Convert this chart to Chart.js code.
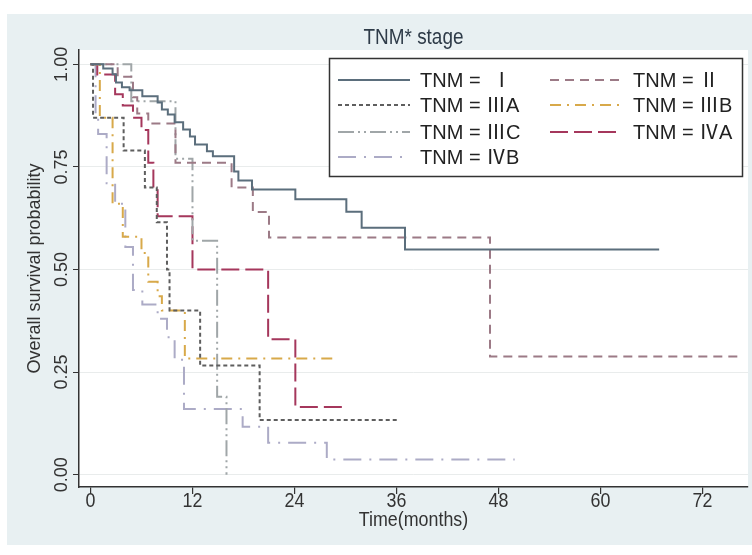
<!DOCTYPE html>
<html lang="en">
<head>
<meta charset="UTF-8">
<title>TNM stage survival</title>
<script src="https://cdn.jsdelivr.net/npm/chart.js"></script>
<style>
  html, body { margin: 0; padding: 0; background: #ffffff; }
  #wrap { width: 752px; height: 555px; }
</style>
</head>
<body>
<div id="wrap"><canvas id="km" width="752" height="555"></canvas></div>
<script>
// Kaplan-Meier steps: time (months) and survival after each drop,
// last entry of each series = end of follow-up
const timeI    = [0, 1.5, 2.6, 3.0, 3.7, 4.6, 6.1, 7.9, 8.4, 9.1, 9.9, 10.9, 11.7, 12.3, 13.7, 14.4, 16.9, 17.4, 19.0, 24.1, 30.1, 31.9, 37.0, 66.9];
const survI    = [1.0, 0.99, 0.976, 0.956, 0.944, 0.937, 0.922, 0.907, 0.89, 0.878, 0.859, 0.841, 0.824, 0.805, 0.788, 0.776, 0.739, 0.717, 0.695, 0.671, 0.641, 0.602, 0.549, 0.549];
const timeII   = [0, 3.2, 5.0, 5.5, 6.8, 10.0, 16.6, 19.1, 21.0, 47.0, 76.1];
const survII   = [1.0, 0.97, 0.92, 0.88, 0.856, 0.76, 0.70, 0.64, 0.578, 0.288, 0.288];
const timeIIIA = [0, 0.3, 3.9, 6.4, 7.8, 9.0, 9.3, 12.9, 19.9, 36.2];
const survIIIA = [1.0, 0.87, 0.79, 0.70, 0.615, 0.50, 0.40, 0.266, 0.133, 0.133];
const timeIIIB = [0, 1.1, 2.6, 3.8, 6.0, 6.8, 7.9, 8.4, 11.1, 29.0];
const survIIIB = [1.0, 0.87, 0.66, 0.58, 0.54, 0.47, 0.435, 0.40, 0.283, 0.283];
const timeIIIC = [0, 4.8, 10.0, 12.0, 14.9, 16.0];
const survIIIC = [1.0, 0.91, 0.77, 0.57, 0.19, 0.0];
const timeIVA  = [0, 0.8, 2.9, 3.8, 5.0, 6.0, 6.8, 7.4, 7.9, 12.0, 20.9, 24.1, 29.7];
const survIVA  = [1.0, 0.975, 0.927, 0.90, 0.87, 0.84, 0.76, 0.70, 0.63, 0.50, 0.33, 0.165, 0.165];
const timeIVB  = [0, 0.6, 0.9, 1.9, 2.9, 4.1, 5.0, 6.1, 7.9, 9.0, 9.9, 11.0, 17.9, 20.9, 27.8, 49.9];
const survIVB  = [1.0, 0.88, 0.83, 0.71, 0.66, 0.555, 0.45, 0.415, 0.38, 0.335, 0.28, 0.16, 0.117, 0.078, 0.037, 0.037];

const groupLabels = ['TNM =  Ⅰ', 'TNM = Ⅱ', 'TNM = ⅢA', 'TNM = ⅢB', 'TNM = ⅢC', 'TNM = ⅣA', 'TNM = ⅣB'];
const xTicks = [0, 12, 24, 36, 48, 60, 72];
const xTickLabels = ['0', '12', '24', '36', '48', '60', '72'];
const yTicks = [0, 0.25, 0.5, 0.75, 1];
const yTickLabels = ['0.00', '0.25', '0.50', '0.75', '1.00'];

const SANS = "'Liberation Sans', 'Noto Sans CJK SC', Arial, sans-serif";

function pts(ts, ss) { return ts.map((t, i) => ({ x: t, y: ss[i] })); }

const styles = [
  { color: '#5b6e7c', dash: [],               width: 2 },
  { color: '#9c7a86', dash: [9, 6],           width: 2 },
  { color: '#5e5e5e', dash: [4, 3],           width: 2 },
  { color: '#d8a94a', dash: [11, 6, 2, 6],    width: 2 },
  { color: '#a0a6a8', dash: [16, 4, 2, 4, 2, 4], width: 2 },
  { color: '#a5375c', dash: [18, 6],          width: 2 },
  { color: '#acabc6', dash: [18, 8, 2, 8],    width: 2 }
];
const series = [
  pts(timeI, survI), pts(timeII, survII), pts(timeIIIA, survIIIA), pts(timeIIIB, survIIIB),
  pts(timeIIIC, survIIIC), pts(timeIVA, survIVA), pts(timeIVB, survIVB)
];

const datasets = series.map((d, i) => ({
  label: groupLabels[i],
  data: d,
  stepped: 'before',
  borderColor: styles[i].color,
  borderDash: styles[i].dash,
  borderWidth: styles[i].width,
  pointRadius: 0,
  fill: false
}));

// condensed text (the graph uses a narrow face)
function narrowText(ctx, txt, x, y, size, sx) {
  ctx.save();
  ctx.translate(x, y);
  ctx.scale(sx, 1);
  ctx.font = size + 'px ' + SANS;
  ctx.fillText(txt, 0, 0);
  ctx.restore();
}

// background panels, titles, tick labels and the boxed legend
const decor = {
  id: 'decor',
  beforeDraw(chart) {
    const { ctx, chartArea: a } = chart;
    ctx.save();
    ctx.fillStyle = '#ffffff';
    ctx.fillRect(0, 0, chart.width, chart.height);
    ctx.fillStyle = '#e8f0f2';
    ctx.fillRect(7, 14, chart.width - 7, 531);
    ctx.fillStyle = '#ffffff';
    ctx.fillRect(a.left, a.top, a.right - a.left, a.bottom - a.top);
    ctx.restore();
  },
  afterDraw(chart) {
    const { ctx, scales, chartArea: a } = chart;
    ctx.save();
    ctx.textAlign = 'center';
    ctx.textBaseline = 'middle';

    // title
    ctx.fillStyle = '#2e3b48';
    narrowText(ctx, 'TNM* stage', (a.left + a.right) / 2, 38, 22, 0.86);

    // x tick labels and axis title
    ctx.fillStyle = '#333333';
    xTicks.forEach((v, i) => {
      narrowText(ctx, xTickLabels[i], scales.x.getPixelForValue(v), 501, 21, 0.85);
    });
    narrowText(ctx, 'Time(months)', (a.left + a.right) / 2, 520, 21, 0.85);

    // y tick labels, rotated
    ctx.font = '18px ' + SANS;
    yTicks.forEach((v, i) => {
      const y = scales.y.getPixelForValue(v);
      ctx.save();
      ctx.translate(62, y);
      ctx.rotate(-Math.PI / 2);
      ctx.fillText(yTickLabels[i], 0, 0);
      ctx.restore();
    });

    // legend
    ctx.fillStyle = '#ffffff';
    ctx.fillRect(329, 58, 414, 119);
    ctx.strokeStyle = '#333333';
    ctx.lineWidth = 1.5;
    ctx.strokeRect(329.5, 58.5, 413, 118);
    const rows = [80, 105, 132, 157];
    const cols = [[338, 410, 420], [550, 622, 633]];
    ctx.font = '20px ' + SANS;
    ctx.textAlign = 'left';
    chart.data.datasets.forEach((ds, i) => {
      const c = cols[i % 2], y = rows[Math.floor(i / 2)];
      ctx.beginPath();
      ctx.setLineDash(ds.borderDash);
      ctx.strokeStyle = ds.borderColor;
      ctx.lineWidth = ds.borderWidth;
      ctx.moveTo(c[0], y);
      ctx.lineTo(c[1], y);
      ctx.stroke();
      ctx.setLineDash([]);
      ctx.fillStyle = '#222222';
      ctx.fillText(ds.label, c[2], y + 1);
    });
    ctx.restore();
  }
};

new Chart(document.getElementById('km'), {
  type: 'line',
  data: { datasets },
  options: {
    responsive: false,
    animation: false,
    layout: { padding: { top: 50, right: 4, left: 0, bottom: 0 } },
    plugins: { legend: { display: false }, tooltip: { enabled: false }, title: { display: false } },
    scales: {
      x: {
        type: 'linear',
        min: -1.35,
        max: 77.35,
        afterBuildTicks: s => { s.ticks = xTicks.map(v => ({ value: v })); },
        afterFit: s => { s.height = 68; },
        grid: { drawOnChartArea: false, tickLength: 7, color: '#333333', lineWidth: 1.2 },
        border: { color: '#333333', width: 1.5 },
        ticks: { display: false }
      },
      y: {
        type: 'linear',
        min: -0.03,
        max: 1.035,
        afterBuildTicks: s => { s.ticks = yTicks.map(v => ({ value: v })); },
        afterFit: s => { s.width = 79; },
        grid: { color: '#e9ecec', tickColor: '#333333', tickLength: 6, lineWidth: 1 },
        border: { color: '#333333', width: 1.5 },
        ticks: { display: false },
        title: { display: true, text: 'Overall survival probability', color: '#333333', font: { size: 18, family: SANS }, padding: { top: 24, bottom: 0 } }
      }
    }
  },
  plugins: [decor]
});
</script>
</body>
</html>
